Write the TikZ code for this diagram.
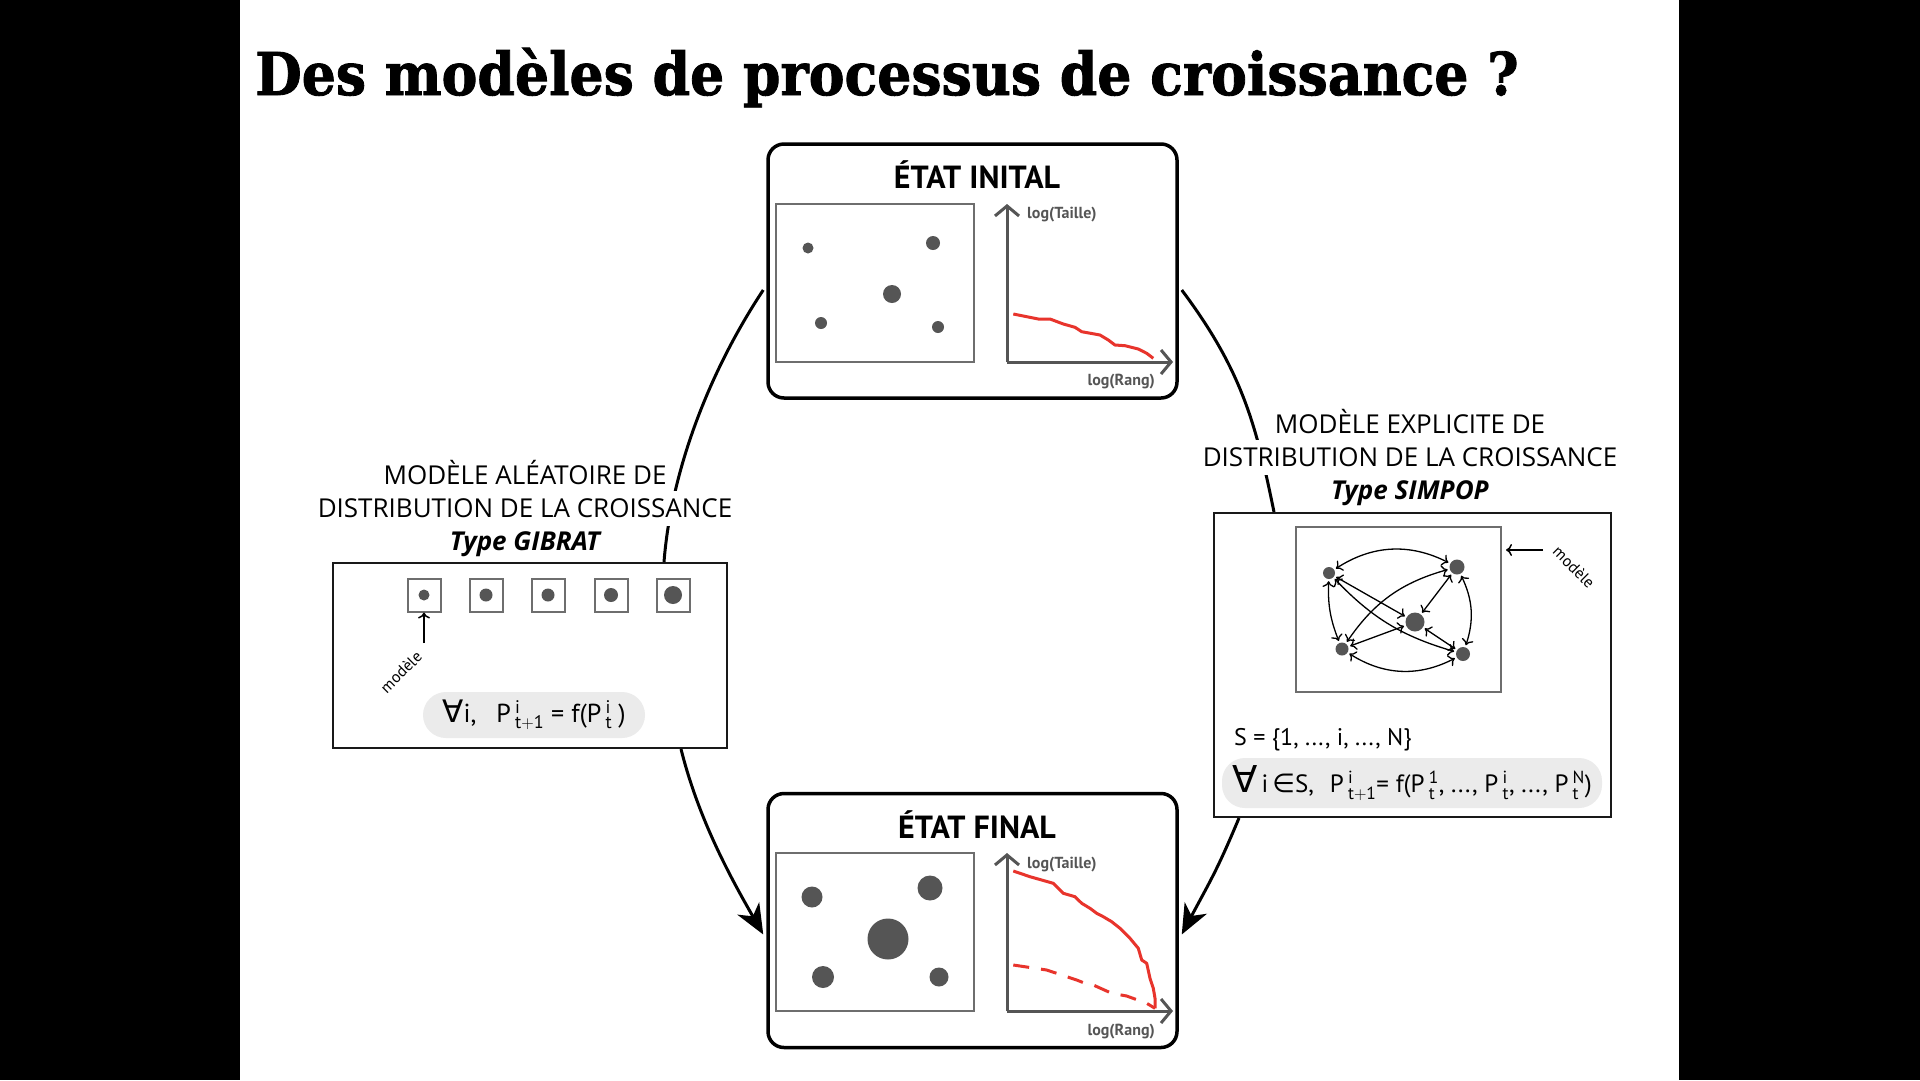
\documentclass[tikz,border=0pt]{standalone}
\usepackage{fontspec}
\usepackage{graphicx}
\setmainfont{PT Sans}
\newfontfamily\titlefont[BoldFeatures={FakeBold=1.5}]{DejaVu Serif}
\newfontfamily\labelfont{Open Sans}
\newfontfamily\symbfont{DejaVu Sans}
\usetikzlibrary{positioning,calc,arrows.meta}

\definecolor{dotgray}{HTML}{555555}
\definecolor{framegray}{HTML}{6E6E6E}
\definecolor{curvered}{HTML}{E8342C}
\definecolor{pillgray}{HTML}{EBEBEB}

\newcommand{\pidx}[2]{\,$^{\mathrm{#1}}_{\mathrm{#2}}$}

\tikzset{
  etat/.style={draw, line width=3.5pt, rounded corners=16pt, fill=white,
    minimum width=409pt, minimum height=254pt},
  modele/.style={draw=black!90, line width=2pt, fill=white},
  carte/.style={draw=framegray, line width=2pt, inner sep=0pt},
  ville/.style={circle, fill=dotgray, inner sep=0pt},
  axe/.style={draw=dotgray, line width=3pt, -{Straight Barb[length=10pt,width=24pt]}},
  flux/.style={line width=3pt},
  fluxarr/.style={flux, -{Stealth[length=30pt,width=25pt,inset=9pt]}},
  lien/.style={line width=1.3pt, {To[length=6pt,width=12pt]}-{To[length=6pt,width=12pt]},
    shorten <=2pt, shorten >=2pt},
  fleche/.style={line width=1.5pt, -{To[length=6pt,width=12pt]}},
  ligne/.style={fill=white, inner sep=0pt, outer sep=0pt, minimum height=35pt,
    font=\labelfont\fontsize{26}{30}\selectfont},
  typelbl/.style={ligne, font=\labelfont\bfseries\itshape\fontsize{26}{30}\selectfont},
  pill/.style={fill=pillgray, rounded corners=23pt, inner sep=0pt},
  axlabel/.style={text=dotgray, inner sep=0pt, font=\bfseries\fontsize{16}{19}\selectfont},
  etatlbl/.style={font=\bfseries\fontsize{32}{38}\selectfont},
  petit/.style={inner sep=0pt, font=\fontsize{16}{19}\selectfont}
}

\begin{document}
\begin{tikzpicture}[x=1pt,y=-1pt]
\fill[black] (0,0) rectangle (1920,1080);
\fill[white] (240,0) rectangle (1679,1080);
\useasboundingbox (0,0) rectangle (1920,1080);

% titre
\node[anchor=base west, inner sep=0pt] (titre) at (255,95)
  {\titlefont\bfseries\fontsize{59}{70}\selectfont\scalebox{0.91}[1]{Des modèles de processus de croissance ?}};

% cadres
\node[etat] (init) at (972.5,271) {};
\node[etat] (final) at (972.5,920.5) {};
\node[modele, minimum width=394pt, minimum height=185pt] (gibrat) at (530,655.5) {};
\node[modele, minimum width=397pt, minimum height=304pt] (simpop) at (1412.5,665) {};

% etat initial
\begin{scope}[shift={(768,144)}]
  \node[etatlbl] (initlbl) at (209,31) {ÉTAT INITAL};
  \node[carte, minimum width=198pt, minimum height=158pt] (initmap) at (107,139) {};
  \node[ville, minimum size=11pt] (ia) at (40,104) {};
  \node[ville, minimum size=14pt] (ib) at (165,99) {};
  \node[ville, minimum size=18pt] (ic) at (124,150) {};
  \node[ville, minimum size=12pt] (id) at (53,179) {};
  \node[ville, minimum size=12pt] (ie) at (170,183) {};
  \coordinate (io) at (239,218);
  \coordinate (iy) at (239,60);
  \coordinate (ix) at (405,218);
  \draw[axe] (io) -- (iy);
  \draw[axe] (io) -- (ix);
  \node[axlabel, anchor=west] (itaille) at (259,71) {log(Taille)};
  \node[axlabel, anchor=east] (irang) at (387,238) {log(Rang)};
  \draw[curvered, line width=3pt, line join=round] plot coordinates {(245.3,170) (270.3,175)
    (282,175) (295.3,180) (307,183.3) (313.7,187.7) (332,191) (340.3,196) (347,201)
    (357,201.7) (370.3,205) (378.7,209.3) (385.3,214.3)};
\end{scope}

% etat final
\begin{scope}[shift={(768,793)}]
  \node[etatlbl] (finallbl) at (209,32) {ÉTAT FINAL};
  \node[carte, minimum width=198pt, minimum height=158pt] (finalmap) at (107,139) {};
  \node[ville, minimum size=21pt] (fa) at (44,104) {};
  \node[ville, minimum size=25pt] (fb) at (162,95) {};
  \node[ville, minimum size=41pt] (fc) at (120,146) {};
  \node[ville, minimum size=22pt] (fd) at (55,184) {};
  \node[ville, minimum size=19pt] (fe) at (171,184) {};
  \coordinate (fo) at (239,218);
  \coordinate (fy) at (239,60);
  \coordinate (fx) at (405,218);
  \draw[axe] (fo) -- (fy);
  \draw[axe] (fo) -- (fx);
  \node[axlabel, anchor=west] (ftaille) at (259,72) {log(Taille)};
  \node[axlabel, anchor=east] (frang) at (387,239) {log(Rang)};
  \draw[curvered, line width=3pt, line join=round] plot coordinates {(245.3,78) (262,83.7)
    (285.3,90.3) (295.3,100.3) (307,103.7) (313.7,110.3) (322,115.3) (328.7,120.3)
    (335.3,123.7) (343.7,128.7) (352,135.3) (362,145.3) (370.3,155.3) (373.7,167)
    (378.7,170.3) (382,185.3) (385.3,195.3) (387,205.3) (387,215.3)};
  \draw[curvered, line width=3pt, dash pattern=on 16pt off 12pt] plot coordinates {(245.3,172)
    (278.7,177) (288.7,180.3) (308.7,187) (317,190.3) (325.3,192) (343.7,200.3)
    (358.7,203) (378.7,210.3) (387,215.3)};
\end{scope}

% modele Gibrat
\foreach \x/\d [count=\k] in {424/11, 486/13, 548/13, 611/14, 673/18} {
  \node[carte, minimum size=33pt] (case\k) at (\x,595) {};
  \node[ville, minimum size=\d pt] (gv\k) at (case\k) {};
}
\node[petit, rotate=45] (gmodlbl) at (401,672) {modèle};
\coordinate (gmodpt) at (424,643);
\draw[fleche] (gmodpt) -- (case1.south);
\node[pill, minimum width=222pt, minimum height=46pt, font=\fontsize{26}{30}\selectfont] (gform) at (534,715)
  {{\symbfont\fontsize{31}{32}\selectfont ∀}i,\hspace{20pt}P\pidx{i}{t+1} = f(P\pidx{i}{t}\hspace{6pt})};

% modele Simpop
\node[carte, minimum width=205pt, minimum height=165pt] (reseau) at (1398.5,609.5) {};
\node[ville, minimum size=12pt] (tl) at (1329,573) {};
\node[ville, minimum size=15pt] (tr) at (1457,567) {};
\node[ville, minimum size=19pt] (ctr) at (1415,622) {};
\node[ville, minimum size=13pt] (bl) at (1342,649) {};
\node[ville, minimum size=14pt] (br) at (1463,654) {};
\draw[lien] (tl) to[bend left=30] (tr);
\draw[lien] (bl) to[bend right=30] (br);
\draw[lien] (tl) to[bend right=12] (bl);
\draw[lien] (tr) to[bend left=22] (br);
\draw[lien] (tl) -- (ctr);
\draw[lien] (tr) -- (ctr);
\draw[lien] (bl) -- (ctr);
\draw[lien] (br) -- (ctr);
\draw[lien] (tl) to[bend right=15] (br);
\draw[lien] (bl) to[bend left=20] (tr);
\node[petit, rotate=-45] (smodlbl) at (1574,567) {modèle};
\coordinate (smodpt) at (1543,550);
\draw[fleche] (smodpt) -- ($(reseau.east|-smodpt)+(4,0)$);
\node[anchor=west, inner sep=0pt, font=\fontsize{24}{28}\selectfont] (ens) at (1234,740)
  {S = \{1, ..., i, ..., N\}};
\node[pill, minimum width=380pt, minimum height=50pt, font=\fontsize{25}{30}\selectfont] (sform) at (1412,783)
  {{\symbfont\fontsize{37}{38}\selectfont ∀}\,i\,{\symbfont\fontsize{26}{30}\selectfont ∈}S,\hspace{16pt}P\pidx{i}{t+1}= f(P\pidx{1}{t}, ..., P\pidx{i}{t}, ..., P\pidx{N}{t})};

% flux
\draw[flux] ($(init.west)+(-3,19)$) .. controls +(-55,83) and +(7,-90) .. ($(gibrat.north)+(134,0)$);
\draw[fluxarr] ($(gibrat.south)+(151,0)$) .. controls +(17,68) and +(-35,-61) .. ($(final.west)+(-3,14)$);
\draw[flux] ($(init.east)+(3,19)$) .. controls +(60,80) and +(-18,-88) .. ($(simpop.north)+(-138.5,0)$);
\draw[fluxarr] ($(simpop.south)+(-173.5,0)$) .. controls +(-23,55) and +(28,-53) .. ($(final.east)+(3,14)$);

% libelles
\node[ligne] (g1) at (525,473) {MODÈLE ALÉATOIRE DE};
\node[ligne, below=0.5pt of g1] (g2) {DISTRIBUTION DE LA CROISSANCE};
\node[typelbl, below=0.5pt of g2] (g3) {Type GIBRAT};
\node[ligne] (s1) at (1410,422) {MODÈLE EXPLICITE DE};
\node[ligne, below=0.5pt of s1] (s2) {DISTRIBUTION DE LA CROISSANCE};
\node[typelbl, below=0.5pt of s2] (s3) {Type SIMPOP};
\end{tikzpicture}
\end{document}
